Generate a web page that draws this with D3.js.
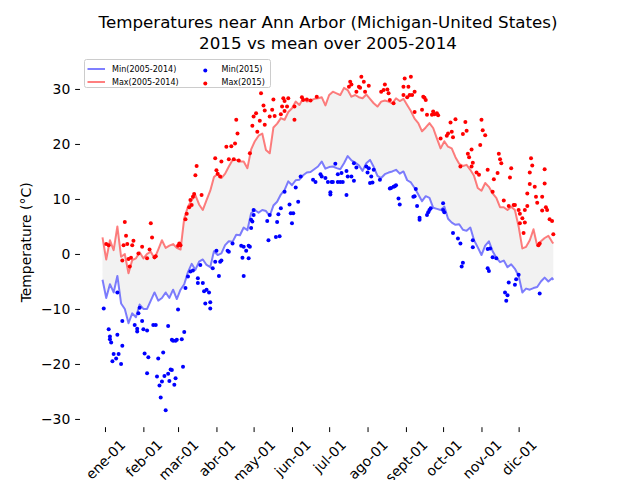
<!DOCTYPE html>
<html><head><meta charset="utf-8">
<script src="https://cdn.jsdelivr.net/npm/d3@7"></script>
<style>body{margin:0;background:#fff} svg{display:block;font-family:"DejaVu Sans",sans-serif}</style>
</head><body><svg id="chart" width="640" height="480"></svg>
<script>
// ---- data ----
const lineDays = [0,3,6,9,12,15,18,21,24,27,30,33,36,39,42,45,48,51,54,57,60,63,66,69,72,75,78,81,84,87,90,93,96,99,102,105,108,111,114,117,120,123,126,129,132,135,138,141,144,147,150,153,156,159,162,165,168,171,174,177,180,183,186,189,192,195,198,201,204,207,210,213,216,219,222,225,228,231,234,237,240,243,246,249,252,255,258,261,264,267,270,273,276,279,282,285,288,291,294,297,300,303,306,309,312,315,318,321,324,327,330,333,336,339,342,345,348,351,354,357,360,363,364];
const maxMean = [3.0,-1.0,2.5,0.7,5.0,-0.5,0.0,-3.5,-1.1,-0.8, 0.3,-0.8,0.0,0.4,-0.8,0.8,2.5,1.1,1.5,1.8, 1.1,0.8,6.5,8.6,9.8,10.7,9.0,8.0,9.8,11.5, 14.0,14.6,13.8,14.6,15.9,17.1,17.1,16.8,16.8,15.6, 19.0,20.5,21.5,21.9,18.9,18.3,23.0,23.7,24.7,24.4, 25.8,26.5,27.7,27.1,28.3,27.7,27.9,28.2,28.3,28.5, 27.0,28.9,29.5,29.2,28.9,30.2,29.8,28.6,28.9,28.5, 28.3,29.0,28.2,27.4,26.8,27.7,27.9,27.7,27.4,28.3, 27.8,28.2,27.1,26.0,24.6,23.8,22.3,23.0,23.8,22.9, 21.0,19.2,20.5,19.5,19.2,17.6,16.4,16.0,16.2,15.3, 14.2,12.0,11.5,12.9,12.2,11.0,10.2,8.5,8.5,8.0, 8.6,8.0,5.0,1.0,1.3,2.5,4.5,1.5,2.3,2.9, 3.3,2.2,1.9];
const minMean = [-4.7,-8.0,-5.5,-7.0,-4.0,-9.0,-10.0,-12.6,-10.8,-11.5, -9.2,-10.0,-10.0,-8.5,-7.0,-8.5,-8.0,-7.0,-8.0,-6.5, -8.2,-6.5,-5.5,-3.3,-1.8,-2.9,-1.4,-1.0,-2.0,-2.4, 0.5,-0.2,0.1,1.6,2.3,2.2,3.5,3.4,4.8,4.3, 7.4,8.0,7.5,8.0,7.8,6.9,8.8,9.5,10.8,11.6, 13.2,12.5,13.4,13.5,14.3,14.8,14.9,15.4,15.9,16.8, 15.5,15.8,15.9,15.6,15.4,16.5,17.8,17.0,16.6,16.1, 15.1,16.5,17.1,15.8,14.2,13.8,14.5,14.8,15.0,15.3, 14.6,15.0,13.4,13.0,12.0,10.8,9.6,10.5,10.2,8.4, 8.2,8.0,8.6,6.4,5.7,5.3,5.4,4.4,4.2,4.8, 2.5,1.2,-0.2,1.5,2.3,0.5,-0.7,-1.5,-1.2,-2.4, -1.9,-2.7,-4.0,-7.0,-6.3,-6.5,-6.2,-6.0,-5.0,-4.3, -5.0,-4.4,-4.7];

const max2015Days = [3,5,16,17,18,19,20,21,22,23,24,25,29,32,36,38,39,40,42,43,61,62,63,67,68,70,71,72,73,74,75,76,80,91,92,93,95,96,100,102,104,106,107,108,109,110,119,121,122,124,125,127,128,130,131,131,135,137,138,139,144,145,146,147,147,149,150,155,155,161,162,165,168,173,199,200,201,205,207,208,209,211,212,215,225,227,228,230,231,232,235,243,243,244,246,247,248,249,250,252,252,258,259,260,261,262,266,267,268,270,271,273,278,279,281,282,283,285,289,291,293,294,295,296,298,298,299,302,304,305,306,307,309,311,315,316,319,320,321,322,324,328,329,330,332,333,336,337,337,339,340,341,341,343,343,345,345,346,347,349,350,351,352,353,355,355,357,357,358,359,361,363,364];
const max2015Temps = [1.8,1.6,-1.2,1.6,5.8,3.3,1.8,-0.9,-2.3,-0.7,1.6,2.4,0.1,1.3,-0.8,0.8,5.6,3.0,-0.6,-0.4,1.5,1.9,1.6,6.3,7.3,8.5,9.8,8.9,10.4,10.9,14.3,16.0,10.7,17.4,15.2,14.6,14.1,16.8,19.5,17.2,19.6,17.2,20.1,24.4,21.9,17.0,18.3,23.3,25.0,25.6,22.2,24.2,29.2,27.0,26.1,23.5,25.0,26.2,28.1,25.1,25.4,26.8,28.3,27.8,26.0,26.8,28.3,24.4,26.8,28.5,28.0,28.1,27.9,28.6,30.4,31.3,30.8,29.5,30.4,30.2,32.2,31.3,29.5,30.6,29.5,29.8,30.8,29.9,29.2,28.0,27.4,30.4,28.9,31.9,28.5,30.4,28.9,32.2,28.9,29.5,25.8,26.2,28.6,28.4,28.0,25.3,25.3,25.9,25.4,25.6,25.2,21.0,21.5,21.9,23.9,22.2,21.2,24.5,15.9,21.8,24.0,22.4,18.2,17.6,19.0,15.9,16.6,14.8,14.4,19.8,24.4,22.5,21.6,15.3,11.3,13.6,14.7,18.2,17.2,16.5,9.7,8.7,13.9,15.6,8.9,8.9,8.0,7.3,5.6,6.5,3.8,5.7,8.0,8.7,11.0,12.7,14.8,17.4,16.1,12.2,10.4,9.3,1.6,1.9,7.9,10.4,12.8,15.4,8.5,8.0,6.3,6.0,3.6];

const min2015Days = [1,5,6,6,7,8,9,11,12,12,13,15,16,16,26,28,28,29,30,32,33,34,36,36,37,41,43,44,45,46,47,48,49,50,51,53,53,54,55,56,56,57,58,59,59,60,61,64,65,66,67,69,71,73,77,77,79,81,82,83,84,86,87,87,89,91,92,94,95,96,101,102,105,112,113,114,114,116,118,118,119,120,120,121,122,122,133,134,135,140,141,142,143,144,147,151,152,153,154,156,158,160,170,172,176,177,180,182,184,184,185,186,188,190,190,192,193,194,197,197,198,201,203,203,205,213,214,215,216,217,218,219,224,232,233,235,236,237,239,240,251,252,253,254,256,256,262,263,264,265,275,275,276,283,287,289,290,291,299,299,311,311,312,313,315,318,325,326,327,328,333,334,336,353];
const min2015Temps = [-9.9,-13.7,-15.0,-15.5,-16.1,-19.5,-18.2,-19.0,-14.7,-7.0,-18.2,-20.0,-16.7,-12.2,-12.9,-13.6,-14.1,-10.8,-9.8,-12.2,-13.7,-18.1,-13.9,-21.7,-18.8,-12.9,-12.9,-22.3,-19.0,-23.9,-26.1,-23.2,-17.9,-22.2,-28.4,-21.8,-13.1,-23.1,-21.0,-15.6,-21.1,-15.8,-23.8,-22.6,-15.8,-15.6,-10.1,-15.5,-20.5,-14.2,-6.2,-4.1,-3.2,-3.0,-5.3,-4.4,-2.0,-5.3,-6.8,-9.0,-6.5,-7.0,-9.9,-8.8,-2.6,-1.4,0.6,-4.0,-1.4,-1.2,0.6,0.4,1.9,1.5,-0.7,1.3,-4.0,0.6,-0.8,1.5,1.3,4.7,6.2,5.9,7.1,8.0,6.0,2.5,7.1,3.1,5.8,7.2,3.2,8.3,11.3,9.0,7.4,5.6,7.4,12.1,9.5,14.1,13.5,13.1,14.5,14.1,13.8,13.1,10.8,11.2,13.1,13.1,16.4,14.5,13.1,13.1,14.7,13.1,15.1,10.7,14.1,14.1,13.3,16.5,15.7,15.9,14.8,15.6,12.9,14.1,13.0,15.3,13.5,11.9,12.0,12.2,12.3,12.5,10.1,9.0,10.4,10.5,11.8,8.7,6.2,6.6,7.1,7.6,8.0,8.3,8.0,9.2,7.6,3.8,2.8,1.9,-2.3,-1.6,1.2,2.5,0.9,-2.6,-3.1,1.0,-0.6,-0.8,-7.0,-8.5,-7.5,-5.2,-5.6,-4.6,-3.8,-7.2];

const tickDays = [2,33,61,92,122,153,183,214,245,275,306,336];
const monthLabels = ["ene-01","feb-01","mar-01","abr-01","may-01","jun-01","jul-01","ago-01","sept-01","oct-01","nov-01","dic-01"];
const yTicks = [-30,-20,-10,0,10,20,30];
const titleLines = ["Temperatures near Ann Arbor (Michigan-United States)", "2015 vs mean over 2005-2014"];
const yLabel = "Temperature (°C)";
const legendLabels = ["Min(2005-2014)","Max(2005-2014)","Min(2015)","Max(2015)"];

// ---- drawing ----
const svg = d3.select("#chart");
const L = 80, R = 576, T = 57.6, B = 427.2;
const x = d3.scaleLinear().domain([-18.17, 382.32]).range([L, R]);
const y = d3.scaleLinear().domain([-31.5, 35.7]).range([B, T]);

const rows = lineDays.map((d, i) => ({d, lo: minMean[i], hi: maxMean[i]}));

svg.append("path").datum(rows)
  .attr("fill", "#f2f2f2")
  .attr("d", d3.area().x(r => x(r.d)).y0(r => y(r.lo)).y1(r => y(r.hi)));

const line = key => d3.line().x(r => x(r.d)).y(r => y(r[key]));
svg.append("path").datum(rows).attr("fill","none").attr("stroke","#0000ff").attr("stroke-opacity",0.5)
  .attr("stroke-width",2).attr("stroke-linejoin","round").attr("d", line("lo"));
svg.append("path").datum(rows).attr("fill","none").attr("stroke","#ff0000").attr("stroke-opacity",0.5)
  .attr("stroke-width",2).attr("stroke-linejoin","round").attr("d", line("hi"));

svg.append("g").selectAll("circle").data(min2015Days.map((d,i)=>[d,min2015Temps[i]])).join("circle")
  .attr("cx", p => x(p[0])).attr("cy", p => y(p[1])).attr("r", 2).attr("fill", "#0000ff");
svg.append("g").selectAll("circle").data(max2015Days.map((d,i)=>[d,max2015Temps[i]])).join("circle")
  .attr("cx", p => x(p[0])).attr("cy", p => y(p[1])).attr("r", 2).attr("fill", "#ff0000");

// axes
const fs = 13.9;
const yAx = svg.append("g").attr("transform", `translate(${L},0)`)
  .call(d3.axisLeft(y).tickValues(yTicks).tickSize(4.86).tickPadding(4.86));
yAx.select(".domain").remove();
yAx.selectAll("text").attr("font-size", fs).attr("font-family","DejaVu Sans").attr("fill","#000");

const xAx = svg.append("g").attr("transform", `translate(0,${B})`)
  .call(d3.axisBottom(x).tickValues(tickDays).tickFormat((d,i) => monthLabels[i]).tickSize(4.86));
xAx.select(".domain").remove();
xAx.selectAll("text").attr("font-size", fs).attr("font-family","DejaVu Sans").attr("fill","#000")
  .attr("y", 0).attr("dy", 0).attr("text-anchor","middle").attr("dominant-baseline","central")
  .each(function(){
    const w = this.getComputedTextLength();
    const h = fs * 1.1;
    d3.select(this).attr("transform", `translate(0,${9.72 + (w + h) * 0.3536}) rotate(-45)`);
  });

// title
svg.append("g").selectAll("text").data(titleLines).join("text")
  .attr("x", 328).attr("y", (d,i) => 28 + i * 21).attr("text-anchor","middle")
  .attr("font-size", 16.7).attr("fill","#000").text(d => d);

svg.append("text").attr("transform", `translate(31,${(T+B)/2}) rotate(-90)`)
  .attr("text-anchor","middle").attr("font-size", fs).attr("fill","#000").text(yLabel);

// legend
const lg = svg.append("g");
lg.append("rect").attr("x",84.5).attr("y",59.5).attr("width",186).attr("height",28).attr("rx",2)
  .attr("fill","#fff").attr("fill-opacity",0.8).attr("stroke","#cccccc").attr("stroke-width",1);
const lfs = 8.04;
[["#0000ff",69],["#ff0000",82]].forEach(([c,yy],i) => {
  lg.append("line").attr("x1",87.5).attr("x2",105).attr("y1",yy).attr("y2",yy)
    .attr("stroke",c).attr("stroke-opacity",0.5).attr("stroke-width",2);
  lg.append("text").attr("x",112).attr("y",yy).attr("dy","0.35em").attr("font-size",lfs).attr("fill","#000").text(legendLabels[i]);
  lg.append("circle").attr("cx",205.3).attr("cy",yy+1.5).attr("r",2).attr("fill",c);
  lg.append("text").attr("x",221.5).attr("y",yy).attr("dy","0.35em").attr("font-size",lfs).attr("fill","#000").text(legendLabels[i+2]);
});
</script></body></html>
